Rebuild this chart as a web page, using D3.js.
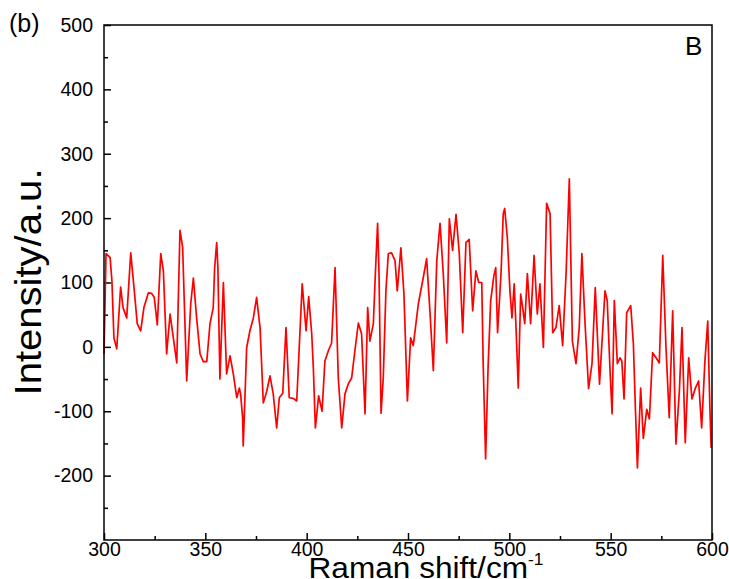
<!DOCTYPE html>
<html>
<head>
<meta charset="utf-8">
<script src="https://cdn.jsdelivr.net/npm/d3@7"></script>
<style>
  body { margin: 0; background: #fff; }
  svg text { font-family: "Liberation Sans", Arial, sans-serif; fill: #000; }
</style>
</head>
<body>
<svg id="chart" width="729" height="579"></svg>
<script>
// Raman spectrum (x in cm^-1, y in a.u.)
var shift = [300.0,301.0,303.0,303.9,304.9,306.3,308.2,309.4,311.2,313.2,315.1,316.4,318.1,319.7,321.9,323.5,324.8,326.3,328.0,329.3,
  330.9,332.6,334.2,335.9,337.5,338.8,340.8,342.8,344.1,345.7,347.4,349.0,350.7,352.3,353.9,354.6,355.6,356.2,357.2,357.9,
  358.9,360.5,362.2,363.8,365.5,366.8,367.4,368.4,368.7,370.4,372.0,373.7,375.3,377.0,378.6,380.3,381.9,383.5,385.2,386.5,
  388.2,389.8,391.4,393.4,395.1,397.8,399.7,401.0,402.5,403.3,404.3,405.9,407.6,409.0,410.7,412.3,414.0,415.6,417.3,418.9,
  420.5,422.2,423.8,425.5,427.1,428.8,430.1,431.2,432.9,433.9,435.0,435.7,436.7,437.8,439.1,440.3,441.9,443.6,444.7,446.5,
  448.0,449.7,451.3,452.6,455.1,457.5,459.2,460.9,462.5,464.2,465.8,467.4,469.1,470.4,472.0,473.7,475.3,477.0,478.6,480.2,
  481.9,483.5,484.9,486.4,487.1,488.3,489.5,490.8,492.4,493.3,494.2,495.9,497.0,497.7,499.0,500.3,501.3,502.4,503.3,504.4,
  505.6,506.6,507.6,508.9,510.5,512.2,513.8,515.1,516.8,518.4,520.1,521.4,523.0,524.6,526.3,528.0,529.6,531.1,532.9,534.5,
  535.8,537.3,539.1,540.8,542.4,544.5,547.2,548.3,549.7,550.7,551.8,553.3,554.6,555.5,556.6,557.9,559.9,561.2,562.2,563.2,
  564.8,566.1,567.8,569.1,570.7,572.4,574.0,575.7,577.3,578.9,580.6,582.2,583.9,585.2,586.8,588.5,590.1,591.8,593.4,594.9,
  596.5,597.9,599.0,599.6];
var intensity = [-11,145,139,103,14,-3,93,61,45,146,82,36,25,61,84,83,77,34,145,118,
  -11,51,14,-25,181,155,-53,67,107,45,-11,-23,-23,36,61,123,162,123,-50,14,
  100,-42,-14,-42,-79,-64,-73,-110,-154,-1,25,45,77,30,-87,-69,-45,-73,-126,-79,
  -72,30,-79,-80,-84,98,25,78,20,-33,-126,-76,-100,-22,-6,6,123,-48,-126,-73,
  -58,-48,-6,37,20,-104,61,9,36,114,192,114,-103,-48,87,145,146,134,87,154,
  82,-84,14,2,67,107,137,51,-37,134,192,114,6,199,150,206,145,22,162,167,
  56,118,100,100,-26,-174,-33,72,111,123,22,114,207,215,170,87,45,98,30,-64,
  82,61,36,114,36,142,51,98,-1,223,207,22,30,64,2,114,261,9,-26,30,
  145,40,-65,-26,92,-58,87,72,-37,-104,72,-26,-17,-22,-81,53,64,5,-95,-188,
  -64,-142,-97,-112,-9,-17,-25,142,-1,-110,56,-151,-69,30,-149,-17,-81,-64,-53,-126,
  -22,40,-100,-157];

var xTicks = [300, 350, 400, 450, 500, 550, 600];
var yTicks = [-200, -100, 0, 100, 200, 300, 400, 500];

var margin = {top: 25, right: 17, bottom: 39, left: 104},
    width = 729 - margin.left - margin.right,
    height = 579 - margin.top - margin.bottom;

var svg = d3.select('#chart');
var g = svg.append('g').attr('transform', 'translate(' + margin.left + ',' + margin.top + ')');

var x = d3.scaleLinear().domain([300, 600]).range([0, width]);
var y = d3.scaleLinear().domain([-300, 500]).range([height, 0]);

// minor ticks first (inward)
g.append('g')
  .attr('transform', 'translate(0,' + height + ')')
  .call(d3.axisBottom(x).tickValues(d3.range(325, 600, 50)).tickSize(-4).tickFormat(''))
  .call(a => a.select('.domain').remove());
g.append('g')
  .call(d3.axisLeft(y).tickValues(d3.range(-250, 500, 50).filter(v => v % 100 !== 0)).tickSize(-4).tickFormat(''))
  .call(a => a.select('.domain').remove());

// major ticks + labels
var xAxis = g.append('g')
  .attr('transform', 'translate(0,' + height + ')')
  .call(d3.axisBottom(x).tickValues(xTicks).tickSize(-7).tickPadding(2).tickFormat(d => String(d)))
  .call(a => a.select('.domain').remove());
xAxis.selectAll('text').attr('font-size', 19.5);

var yAxis = g.append('g')
  .call(d3.axisLeft(y).tickValues(yTicks).tickSize(-7).tickPadding(11).tickFormat(d => String(d)))
  .call(a => a.select('.domain').remove());
yAxis.selectAll('text').attr('font-size', 19.5);

g.selectAll('.tick line').attr('stroke', '#000').attr('stroke-width', 1.5);

// the spectrum
var line = d3.line().x((d, i) => x(shift[i])).y(d => y(d));
g.append('path')
  .datum(intensity)
  .attr('fill', 'none')
  .attr('stroke', '#ff0000')
  .attr('stroke-width', 1.7)
  .attr('stroke-linejoin', 'round')
  .attr('d', line);

// frame
g.append('rect')
  .attr('width', width).attr('height', height)
  .attr('fill', 'none').attr('stroke', '#000').attr('stroke-width', 1.5);

// titles
svg.append('text')
  .attr('transform', 'translate(41,282) rotate(-90)')
  .attr('text-anchor', 'middle')
  .attr('font-size', 36)
  .attr('textLength', 227)
  .attr('lengthAdjust', 'spacingAndGlyphs')
  .text('Intensity/a.u.');

var xt = svg.append('text')
  .attr('transform', 'translate(426,578) scale(1.09,1)')
  .attr('text-anchor', 'middle')
  .attr('font-size', 29);
xt.append('tspan').text('Raman shift/cm');
xt.append('tspan').attr('dy', -13).attr('font-size', 16).text('-1');

svg.append('text').attr('x', 9).attr('y', 32).attr('font-size', 25).text('(b)');
svg.append('text').attr('x', 685).attr('y', 55).attr('font-size', 26).text('B');
</script>
</body>
</html>
